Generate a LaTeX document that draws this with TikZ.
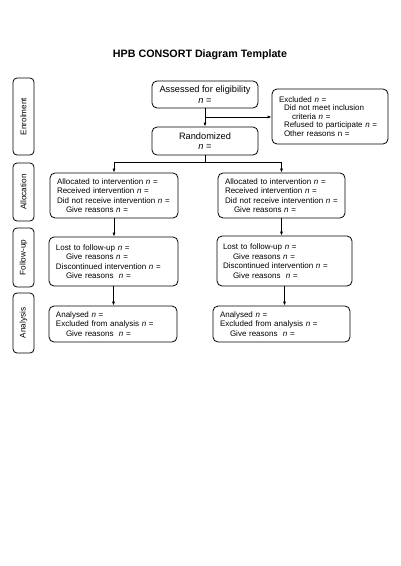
\documentclass[tikz,border=0pt]{standalone}
\usepackage{fontspec}
\setmainfont{Liberation Sans}
\usetikzlibrary{arrows.meta}
\begin{document}
\begin{tikzpicture}[x=1pt,y=-1pt,
  box/.style={draw, rounded corners=5pt, line width=0.8pt, inner ysep=0pt, align=left,
              font=\fontsize{8}{9.5}\selectfont},
  bigbox/.style={draw, rounded corners=5pt, line width=0.8pt, inner sep=0pt, align=center,
              font=\fontsize{9.25}{10.7}\selectfont},
  side/.style={draw, rounded corners=4pt, line width=0.8pt, inner sep=0pt, minimum height=21pt,
              rotate=90, font=\fontsize{8.2}{9}\selectfont},
  arr/.style={-{Latex[length=4pt,width=3.2pt]}, line width=0.8pt},
  ln/.style={line width=0.8pt}]
\useasboundingbox (0,0) rectangle (400,566);

\node[font=\bfseries\fontsize{10.7}{12}\selectfont] (title) at (200,55) {HPB CONSORT Diagram Template};

% side labels
\node[side, minimum width=77pt] (senrol) at (23.5,116.5) {Enrolment};
\node[side, minimum width=58pt] (salloc) at (23.5,192) {Allocation};
\node[side, minimum width=59pt] (sfu) at (23.5,257.5) {Follow-up};
\node[side, minimum width=60pt] (san) at (23.5,323) {Analysis};

% enrolment
\node[bigbox, minimum width=106pt, minimum height=27pt] (assess) at (205,94.5)
  {Assessed for eligibility\\ \textit{n} =};
\node[bigbox, minimum width=106pt, minimum height=28pt] (random) at (205,141)
  {Randomized\\ \textit{n} =};
\node[box, font=\fontsize{8}{8.5}\selectfont, inner xsep=7pt, text width=102pt, minimum height=55pt] (excl) at (330,116.5)
  {Excluded \textit{n} =\\
   \hspace*{5pt}Did not meet inclusion\\
   \hspace*{13pt}criteria \textit{n} =\\
   \hspace*{5pt}Refused to participate \textit{n} =\\
   \hspace*{5pt}Other reasons n =};

% allocation
\node[box, inner xsep=7pt, text width=114pt, minimum height=45pt] (allocL) at (114,195.5)
  {Allocated to intervention \textit{n} =\\
   Received intervention \textit{n} =\\
   Did not receive intervention \textit{n} =\\
   \hspace*{9pt}Give reasons \textit{n} =};
\node[box, inner xsep=7pt, text width=113pt, minimum height=45pt] (allocR) at (281.5,195.5)
  {Allocated to intervention \textit{n} =\\
   Received intervention \textit{n} =\\
   Did not receive intervention \textit{n} =\\
   \hspace*{9pt}Give reasons \textit{n} =};

% follow-up
\node[box, inner xsep=7pt, text width=115pt, minimum height=49pt] (fuL) at (113.5,261.5)
  {Lost to follow-up \textit{n} =\\
   \hspace*{10pt}Give reasons \textit{n} =\\
   Discontinued intervention \textit{n} =\\
   \hspace*{10pt}Give reasons\ \ \textit{n} =};
\node[box, inner xsep=6pt, text width=123pt, minimum height=50pt] (fuR) at (284.5,261)
  {Lost to follow-up \textit{n} =\\
   \hspace*{10pt}Give reasons \textit{n} =\\
   Discontinued intervention \textit{n} =\\
   \hspace*{10pt}Give reasons\ \ \textit{n} =};

% analysis
\node[box, inner xsep=7pt, text width=114pt, minimum height=36pt] (anL) at (113,324)
  {Analysed \textit{n} =\\
   Excluded from analysis \textit{n} =\\
   \hspace*{10pt}Give reasons\ \ \textit{n} =};
\node[box, inner xsep=7pt, text width=123pt, minimum height=36pt] (anR) at (281.5,324)
  {Analysed \textit{n} =\\
   Excluded from analysis \textit{n} =\\
   \hspace*{10pt}Give reasons\ \ \textit{n} =};

% connectors
\draw[arr] (assess) -- (random);
\coordinate (j1) at (205,117);
\draw[arr] (j1) -- (j1 -| excl.west);
\coordinate (split) at (205,162);
\draw[ln] (random.south) -- (split);
\draw[arr] (split) -| (allocL.north);
\draw[arr] (split) -| (allocR.north);
\draw[arr] (allocL.south) -- (allocL.south |- fuL.north);
\draw[arr] (allocR.south) -- (allocR.south |- fuR.north);
\draw[arr] (fuL.south) -- (fuL.south |- anL.north);
\draw[arr] (fuR.south) -- (fuR.south |- anR.north);
\end{tikzpicture}
\end{document}
